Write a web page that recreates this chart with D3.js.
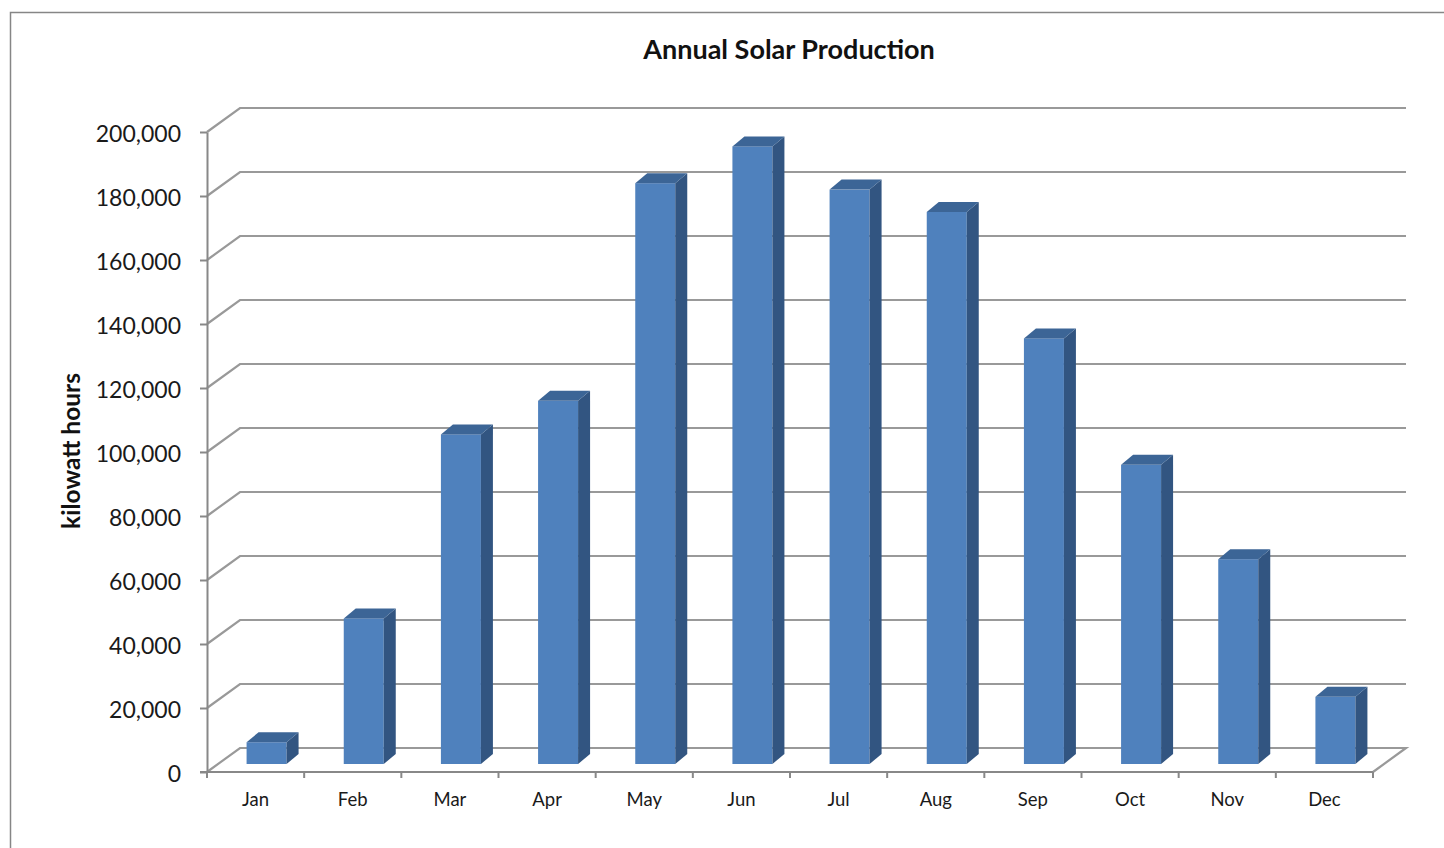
<!DOCTYPE html>
<meta charset="utf-8">
<style>
html,
body {
    margin: 0;
    padding: 0;
    overflow: hidden;
    background: #fff;
}

svg {
    display: block;
}

.axis text {
    font-family: Lato, "Open Sans", sans-serif;
    fill: #1a1a1a;
}
</style>
<svg width="1444" height="848"></svg>
<script src="https://cdn.jsdelivr.net/npm/d3@7"></script>
<script>
// data
var months = ["Jan", "Feb", "Mar", "Apr", "May", "Jun", "Jul", "Aug", "Sep", "Oct", "Nov", "Dec"];
var kwh = [6800, 45500, 103000, 113500, 181500, 193000, 179500, 172500, 133000, 93500, 64000, 21000];
var yTicks = [0, 20000, 40000, 60000, 80000, 100000, 120000, 140000, 160000, 180000, 200000];

var svg = d3.select("svg");

// fake 3d: back wall sits up/right of the front axis
var wallDx = 33, wallDy = -24;
var barDx = 11, barDy = -8;    // where the bar front sits
var depthDx = 12, depthDy = -10; // bar depth

var x = d3.scaleBand()
    .domain(months)
    .range([207, 1373]);

var y = d3.scaleLinear()
    .domain([0, 200000])
    .range([772, 132]);

// outer chart frame
svg.append("rect")
    .attr("x", 10.5)
    .attr("y", 12.5)
    .attr("width", 1460)
    .attr("height", 860)
    .attr("fill", "#fff")
    .attr("stroke", "#868686")
    .attr("stroke-width", 1.5);

// title
svg.append("text")
    .attr("x", 789)
    .attr("y", 59)
    .attr("text-anchor", "middle")
    .style("font", "bold 27px Lato, sans-serif")
    .attr("fill", "#111")
    .text("Annual Solar Production");

svg.append("text")
    .attr("transform", "translate(80,451) rotate(-90)")
    .attr("text-anchor", "middle")
    .style("font", "bold 24.5px Lato, sans-serif")
    .attr("fill", "#111")
    .text("kilowatt hours");

// gridlines: side wall diagonal + back wall
var grid = svg.append("g")
    .attr("fill", "none")
    .attr("stroke", "#999")
    .attr("stroke-width", 2.2);

grid.selectAll("path")
    .data(yTicks)
    .enter().append("path")
    .attr("d", function(d) {
        var yy = y(d);
        if (d === 0) {
            return "M207," + yy + "L" + (207 + wallDx) + "," + (yy + wallDy) +
                "H" + (1373 + wallDx) + "L1373," + yy;
        }
        return "M207," + yy + "L" + (207 + wallDx) + "," + (yy + wallDy) + "H" + (1373 + wallDx);
    });

// y axis
svg.append("g")
    .attr("class", "axis")
    .attr("transform", "translate(207,0)")
    .call(d3.axisLeft(y)
        .tickValues(yTicks)
        .tickSize(7)
        .tickSizeOuter(0)
        .tickPadding(19)
        .tickFormat(d3.format(",")))
    .call(function(g) {
        g.selectAll("line, path").attr("stroke", "#888").attr("stroke-width", 2);
        g.selectAll("text").style("font-size", "23px").attr("dy", "0.42em");
    });

// x axis line + boundary ticks
svg.append("line")
    .attr("x1", 200)
    .attr("x2", 1373)
    .attr("y1", y(0))
    .attr("y2", y(0))
    .attr("stroke", "#888")
    .attr("stroke-width", 2);

svg.append("g")
    .selectAll("line")
    .data(months.concat(["end"]))
    .enter().append("line")
    .attr("x1", function(d, i) { return 207 + i * x.step(); })
    .attr("x2", function(d, i) { return 207 + i * x.step(); })
    .attr("y1", y(0))
    .attr("y2", y(0) + 6)
    .attr("stroke", "#888")
    .attr("stroke-width", 2);

svg.append("g")
    .attr("class", "axis")
    .attr("transform", "translate(0," + y(0) + ")")
    .call(d3.axisBottom(x).tickSize(0).tickPadding(21))
    .call(function(g) {
        g.select(".domain").remove();
        g.selectAll("text").style("font-size", "18.5px");
    });

// bars
var barW = 40;
var bars = svg.append("g")
    .selectAll("g")
    .data(months)
    .enter().append("g");

function bx(m) { return x(m) + x.bandwidth() / 2 - barW / 2 + barDx; }
function by(i) { return y(kwh[i]) + barDy; }
var y0 = y(0) + barDy;

// front face
bars.append("rect")
    .attr("x", function(d) { return bx(d); })
    .attr("y", function(d, i) { return by(i); })
    .attr("width", barW)
    .attr("height", function(d, i) { return y0 - by(i); })
    .attr("fill", "#4f81bd");

// side face
bars.append("path")
    .attr("d", function(d, i) {
        var x1 = bx(d) + barW, t = by(i);
        return "M" + x1 + "," + t + "L" + (x1 + depthDx) + "," + (t + depthDy) +
            "V" + (y0 + depthDy) + "L" + x1 + "," + y0 + "Z";
    })
    .attr("fill", "#325581");

// top face
bars.append("path")
    .attr("d", function(d, i) {
        var x0 = bx(d), t = by(i);
        return "M" + x0 + "," + t + "L" + (x0 + depthDx) + "," + (t + depthDy) +
            "H" + (x0 + barW + depthDx) + "L" + (x0 + barW) + "," + t + "Z";
    })
    .attr("fill", "#3c6596");
</script>
